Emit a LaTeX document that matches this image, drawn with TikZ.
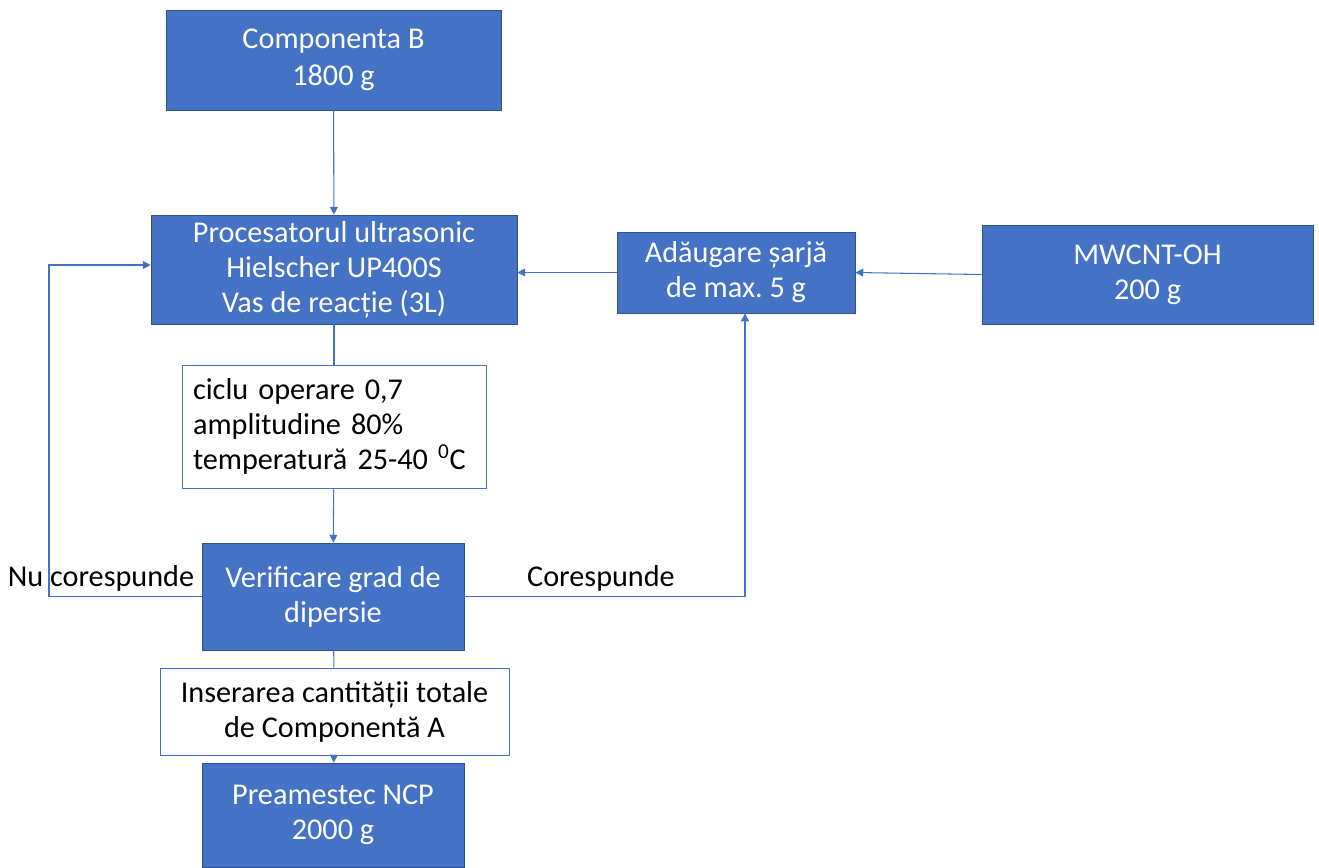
\documentclass[tikz,border=0pt]{standalone}
\usepackage{fontspec}
\setmainfont{Carlito}
\usetikzlibrary{arrows.meta}

\definecolor{boxblue}{HTML}{4472C4}
\definecolor{edgeblue}{HTML}{2F528F}

\tikzset{
	bluebox/.style={draw=edgeblue, fill=boxblue, text=white, align=center,
		inner sep=0pt, font=\fontsize{17.2}{20}\selectfont},
	whitebox/.style={draw=boxblue, fill=white, text=black, inner sep=0pt,
		font=\fontsize{17.2}{20}\selectfont},
	flow/.style={draw=boxblue, line width=0.6pt, -{Triangle[length=4.5pt,width=4.5pt]}},
	link/.style={draw=boxblue, line width=0.6pt},
	lbl/.style={text=black, inner sep=0pt, font=\fontsize{17.2}{20}\selectfont}
}

\begin{document}
\begin{tikzpicture}[x=0.02cm, y=-0.02cm]
	\useasboundingbox (0,0) rectangle (1319,867);

	%casetele principale
	\node [bluebox, minimum width=6.7cm, minimum height=2cm, font=\fontsize{17.2}{21}\selectfont] (compB) at (333.5,60) {Componenta B\\1800 g};
	\node [bluebox, minimum width=7.32cm, minimum height=2.18cm] (proc) at (334,269.5) {Procesatorul ultrasonic\\Hielscher UP400S\\Vas de reacție (3L)};
	\node [bluebox, minimum width=4.76cm, minimum height=1.62cm] (adaug) at (736,272.5) {Adăugare șarjă\\de max.\ 5 g};
	\node [bluebox, minimum width=6.62cm, minimum height=1.98cm] (mwcnt) at (1147.5,274.5) {MWCNT-OH\\200 g};
	\node [whitebox, minimum height=2.46cm, text width=5.64cm, inner xsep=0.22cm, align=left] (param) at (334,426.5) {ciclu operare 0,7\\amplitudine 80\%\\temperatură 25-40 \textsuperscript{0}C};
	\node [bluebox, minimum width=5.24cm, minimum height=2.14cm] (verif) at (333,596.5) {Verificare grad de\\dipersie};
	\node [whitebox, align=center, minimum width=6.98cm, minimum height=1.74cm] (inser) at (334.5,711.5) {Inserarea cantității totale\\de Componentă A};
	\node [bluebox, minimum width=5.24cm, minimum height=2.08cm] (pream) at (333,815) {Preamestec NCP\\2000 g};

	%etichete
	\node [lbl] (nulbl) at (101,578) {Nu corespunde};
	\node [lbl] (corlbl) at (601,578) {Corespunde};
	\coordinate (nuturn) at (49,598);
	\coordinate (corturn) at (745,598);

	%legaturi
	\draw [flow] (compB) -- (proc);
	\draw [link] (proc) -- (param);
	\draw [flow] (param) -- (verif);
	\draw [link] (verif) -- (inser);
	\draw [flow] (inser) -- (pream);
	\draw [flow] (mwcnt.west) -- (adaug.east);
	\draw [flow] (adaug.west) -- (adaug.west -| proc.east);
	\draw [flow] (verif.west) -- (verif.west -| nuturn) |- ([yshift=0.09cm]proc.west);
	\draw [flow] (verif.east) -- (verif.east -| corturn) -- (corturn |- adaug.south);
\end{tikzpicture}
\end{document}
